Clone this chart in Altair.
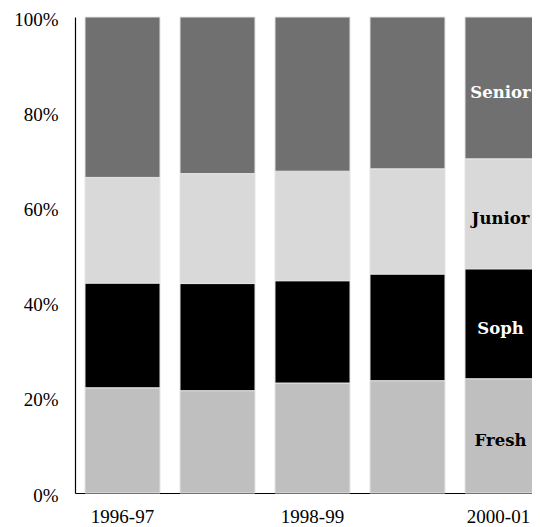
import altair as alt
import pandas as pd

years = ["1996-97", "1997-98", "1998-99", "1999-00", "2000-01"]
classes = ["Fresh", "Soph", "Junior", "Senior"]
fresh = [22.1, 21.5, 23.1, 23.6, 24.0]
soph = [22.0, 22.5, 21.5, 22.4, 23.1]
junior = [22.2, 23.1, 23.0, 22.1, 23.1]
senior = [33.7, 32.9, 32.4, 31.9, 29.8]
colors = ["#bfbfbf", "#000000", "#d9d9d9", "#707070"]
label_colors = ["#000000", "#ffffff", "#000000", "#ffffff"]
x_tick_labels = ["1996-97", "1998-99", "2000-01"]
y_ticks = [0, 20, 40, 60, 80, 100]

series = {"Fresh": fresh, "Soph": soph, "Junior": junior, "Senior": senior}
rows = []
for ci, c in enumerate(classes):
    for yi, y in enumerate(years):
        rows.append({"year": y, "cls": c, "order": ci, "value": series[c][yi],
                     "tcolor": label_colors[ci]})
df = pd.DataFrame(rows)

FONT = "Liberation Serif"
LFONT = "DejaVu Serif"

x_enc = alt.X("year:N", sort=years,
              scale=alt.Scale(paddingInner=0.2105, paddingOuter=0.1053),
              axis=alt.Axis(title=None, values=x_tick_labels, labelAngle=0, ticks=False,
                            labelFont=FONT, labelFontSize=19, labelColor="black",
                            labelPadding=14, domainColor="black", domainWidth=1.2,
                            labelOffset={"condition": {"test": "datum.label == '2000-01'", "value": -4},
                                         "value": 0})) 

bars = alt.Chart(df).mark_bar(stroke="#e4e4e4", strokeWidth=1).encode(
    x=x_enc,
    y=alt.Y("value:Q", stack="zero", scale=alt.Scale(domain=[0, 100], nice=False),
            axis=alt.Axis(title=None, values=y_ticks, labelExpr="datum.value + '%'",
                          ticks=False, grid=False, labelFont=FONT, labelFontSize=19,
                          labelColor="black", labelPadding=17, labelOffset=2,
                          domainColor="black", domainWidth=1.2)),
    color=alt.Color("cls:N", scale=alt.Scale(domain=classes, range=colors), legend=None),
    order=alt.Order("order:Q", sort="ascending"),
)

labels = alt.Chart(df).transform_stack(
    stack="value", groupby=["year"], as_=["v0", "v1"], sort=[alt.SortField("order", "ascending")]
).transform_filter(
    alt.datum.year == years[-1]
).transform_calculate(
    mid="(datum.v0 + datum.v1) / 2"
).mark_text(font=LFONT, fontSize=16.5, fontWeight="bold", dy=5, dx=-2).encode(
    x=alt.X("year:N", sort=years),
    y=alt.Y("mid:Q"),
    text="cls:N",
    color=alt.Color("tcolor:N", scale=None),
)

chart = alt.layer(bars, labels).properties(
    width=475, height=476,
    autosize=alt.AutoSizeParams(type="none"),
    padding={"left": 67, "top": 9, "right": -18, "bottom": 34},
).configure_view(stroke=None)

chart.save("out.html", embed_options={"renderer": "svg", "actions": False})
